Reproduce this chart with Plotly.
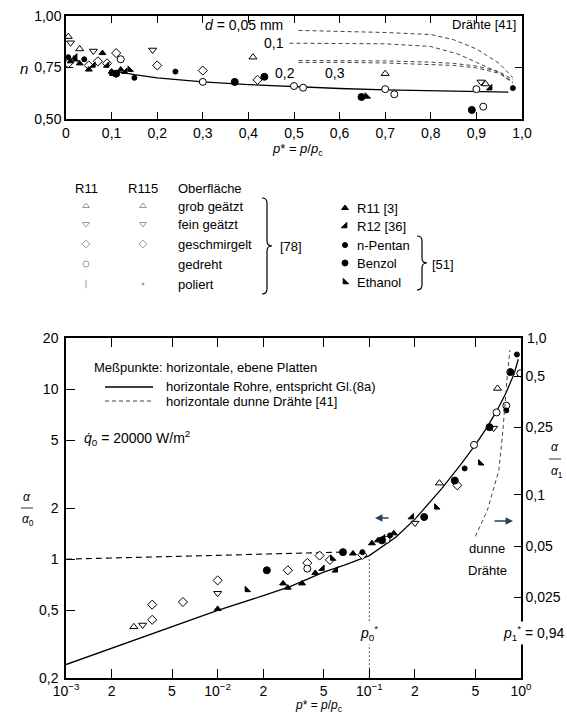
import plotly.graph_objects as go

W, H = 567, 715
FONT = "Liberation Sans"

# ---------------- upper chart: exponent n over p* ----------------
top_ticks = [0, 0.1, 0.2, 0.3, 0.4, 0.5, 0.6, 0.7, 0.8, 0.9, 1.0]
top_ticktext = ["0", "0,1", "0,2", "0,3", "0,4", "0,5", "0,6", "0,7", "0,8", "0,9", "1,0"]
n_ticks = [0.5, 0.75, 1.0]
n_ticktext = ["0,50", "0,75", "1,00"]

n_tube_p = [0.10, 0.15, 0.20, 0.25, 0.30, 0.40, 0.50, 0.60, 0.70, 0.80, 0.90, 0.97]
n_tube_n = [0.735, 0.715, 0.700, 0.690, 0.680, 0.667, 0.656, 0.648, 0.641, 0.636, 0.632, 0.630]

wire005_p = [0.51, 0.60, 0.70, 0.80, 0.85, 0.90, 0.95, 0.98]
wire005_n = [0.930, 0.926, 0.920, 0.910, 0.885, 0.840, 0.770, 0.700]
wire01_p = [0.49, 0.60, 0.70, 0.80, 0.86, 0.90, 0.95, 0.98]
wire01_n = [0.868, 0.868, 0.865, 0.852, 0.815, 0.775, 0.725, 0.680]
wire02_p = [0.51, 0.60, 0.70, 0.80, 0.85, 0.90, 0.95, 0.98]
wire02_n = [0.784, 0.784, 0.782, 0.776, 0.770, 0.757, 0.730, 0.690]
wire03_p = [0.51, 0.60, 0.70, 0.80, 0.85, 0.90, 0.95, 0.98]
wire03_n = [0.774, 0.775, 0.772, 0.766, 0.760, 0.748, 0.722, 0.675]

# scatter symbols in the upper chart
t_up_p = [0.005, 0.03, 0.41, 0.70, 0.92]
t_up_n = [0.90, 0.84, 0.80, 0.72, 0.67]
t_dn_p = [0.01, 0.06, 0.19, 0.91]
t_dn_n = [0.87, 0.83, 0.835, 0.68]
t_dia_p = [0.005, 0.05, 0.07, 0.09, 0.11, 0.20, 0.30, 0.42]
t_dia_n = [0.77, 0.76, 0.78, 0.77, 0.82, 0.76, 0.735, 0.69]
t_circ_p = [0.12, 0.30, 0.50, 0.52, 0.70, 0.72, 0.90, 0.915]
t_circ_n = [0.79, 0.68, 0.66, 0.652, 0.645, 0.62, 0.645, 0.56]
t_r11_p = [0.01, 0.03, 0.05, 0.08, 0.10, 0.12]
t_r11_n = [0.78, 0.77, 0.74, 0.82, 0.73, 0.74]
t_r12_p = [0.02, 0.06, 0.09, 0.13, 0.93]
t_r12_n = [0.80, 0.76, 0.76, 0.73, 0.65]
t_pent_p = [0.005, 0.04, 0.15, 0.24, 0.98]
t_pent_n = [0.80, 0.79, 0.70, 0.73, 0.65]
t_benz_p = [0.11, 0.37, 0.435, 0.648, 0.89]
t_benz_n = [0.72, 0.68, 0.705, 0.607, 0.544]
t_eth_p = [0.02, 0.10, 0.14, 0.66]
t_eth_n = [0.79, 0.72, 0.74, 0.61]

# ---------------- lower chart: alpha/alpha0 over p* ----------------
b_xticks = [0.001, 0.002, 0.005, 0.01, 0.02, 0.05, 0.1, 0.2, 0.5, 1.0]
b_xticktext = ["10<sup>−3</sup>", "2", "5", "10<sup>−2</sup>", "2", "5",
               "10<sup>−1</sup>", "2", "5", "10<sup>0</sup>"]
b_yticks = [0.2, 0.5, 1, 2, 5, 10, 20]
b_yticktext = ["0,2", "0,5", "1", "2", "5", "10", "20"]
r_yticks = [0.025, 0.05, 0.1, 0.25, 0.5]
r_yticktext = ["0,025", "0,05", "0,1", "0,25", "0,5"]

tube_p = [0.001, 0.002, 0.005, 0.01, 0.02, 0.03, 0.05, 0.07, 0.1, 0.15, 0.2,
          0.3, 0.4, 0.5, 0.6, 0.7, 0.8, 0.9, 0.96]
tube_v = [0.24, 0.30, 0.40, 0.50, 0.61, 0.69, 0.84, 0.93, 1.05, 1.35, 1.72,
          2.6, 3.6, 4.7, 6.0, 7.6, 9.6, 12.3, 15.0]

wire_h_p = [0.001, 0.01, 0.065]
wire_h_v = [1.0, 1.05, 1.10]
# thin wires, read against the right axis alpha/alpha1
wire_thin_p = [0.50, 0.60, 0.715, 0.76, 0.81, 0.845]
wire_thin_a1 = [0.057, 0.081, 0.14, 0.24, 0.49, 0.71]

p0_star = 0.1

b_up_p = [0.0028, 0.29, 0.70]
b_up_v = [0.40, 2.8, 10.1]
b_dn_p = [0.0032, 0.01, 0.20, 0.66]
b_dn_v = [0.41, 0.63, 1.63, 5.9]
b_dia_p = [0.0037, 0.0037, 0.0059, 0.01, 0.029, 0.039, 0.047, 0.055, 0.09, 0.38]
b_dia_v = [0.44, 0.54, 0.56, 0.75, 0.86, 0.95, 1.05, 0.99, 1.06, 2.72]
b_circ_p = [0.039, 0.13, 0.49, 0.69, 0.99, 0.80]
b_circ_v = [0.88, 1.30, 4.7, 7.3, 12.4, 8.0]
b_r11_p = [0.01, 0.027, 0.029, 0.036, 0.044, 0.078, 0.104, 0.114, 0.145]
b_r11_v = [0.51, 0.72, 0.68, 0.72, 0.83, 1.08, 1.24, 1.29, 1.42]
b_r12_p = [0.049, 0.06, 0.123, 0.19]
b_r12_v = [0.88, 0.86, 1.33, 1.77]
b_benz_p = [0.0211, 0.067, 0.121, 0.23, 0.366, 0.62, 0.85]
b_benz_v = [0.86, 1.10, 1.29, 1.77, 2.9, 5.98, 12.6]
b_pent_p = [0.09, 0.137, 0.425, 0.80, 0.94]
b_pent_v = [1.10, 1.38, 3.42, 7.5, 16.0]
b_eth_p = [0.0156, 0.057, 0.277, 0.54]
b_eth_v = [0.66, 1.01, 2.02, 3.67]

# ---------------- legend texts ----------------
leg_rows = ["grob geätzt", "fein geätzt", "geschmirgelt", "gedreht", "poliert"]
leg_right = ["R11 [3]", "R12 [36]", "n-Pentan", "Benzol", "Ethanol"]

fig = go.Figure()


def pts(xs, ys, sym, size, xa, ya, fill="black", lw=1.0, col="black"):
    fig.add_trace(go.Scatter(
        x=xs, y=ys, mode="markers", xaxis=xa, yaxis=ya, hoverinfo="skip",
        showlegend=False,
        marker=dict(symbol=sym, size=size, color=fill, line=dict(color=col, width=lw))))


def line(xs, ys, xa, ya, dash="solid", width=1.2, col="black"):
    fig.add_trace(go.Scatter(
        x=xs, y=ys, mode="lines", xaxis=xa, yaxis=ya, hoverinfo="skip",
        showlegend=False, line=dict(color=col, width=width, dash=dash)))


# upper chart
line(n_tube_p, n_tube_n, "x", "y", width=1.3)
for px_, py_ in [(wire005_p, wire005_n), (wire01_p, wire01_n),
                 (wire02_p, wire02_n), (wire03_p, wire03_n)]:
    line(px_, py_, "x", "y", dash="4px,3px", width=1.0, col="#444")
pts(t_up_p, t_up_n, "triangle-up", 7, "x", "y", fill="white")
pts(t_dn_p, t_dn_n, "triangle-down", 7, "x", "y", fill="white")
pts(t_dia_p, t_dia_n, "diamond", 7, "x", "y", fill="white")
pts(t_circ_p, t_circ_n, "circle", 7, "x", "y", fill="white")
pts(t_r11_p, t_r11_n, "triangle-up", 6, "x", "y")
pts(t_r12_p, t_r12_n, "triangle-se", 6, "x", "y")
pts(t_pent_p, t_pent_n, "circle", 5, "x", "y")
pts(t_benz_p, t_benz_n, "circle", 7, "x", "y")
pts(t_eth_p, t_eth_n, "triangle-sw", 6, "x", "y")

# lower chart
line(tube_p, tube_v, "x2", "y2", width=1.3)
line(wire_h_p, wire_h_v, "x2", "y2", dash="6px,4px", width=1.1)
line([p0_star, p0_star], [1.0, 0.2], "x2", "y2", dash="2px,2px", width=1.0, col="#555")
pts(b_up_p, b_up_v, "triangle-up", 7, "x2", "y2", fill="white")
pts(b_dn_p, b_dn_v, "triangle-down", 7, "x2", "y2", fill="white")
pts(b_dia_p, b_dia_v, "diamond", 7, "x2", "y2", fill="white")
pts(b_circ_p, b_circ_v, "circle", 7, "x2", "y2", fill="white")
pts(b_r11_p, b_r11_v, "triangle-up", 6, "x2", "y2")
pts(b_r12_p, b_r12_v, "triangle-se", 6, "x2", "y2")
pts(b_benz_p, b_benz_v, "circle", 7, "x2", "y2")
pts(b_pent_p, b_pent_v, "circle", 5, "x2", "y2")
pts(b_eth_p, b_eth_v, "triangle-sw", 6, "x2", "y2")
line(wire_thin_p, wire_thin_a1, "x2", "y3", dash="4px,3px", width=1.0, col="#444")

# canvas (pixel coordinates) for legend glyphs and sample lines
CV = ("x4", "y4")
row_y = [206, 224, 244, 264, 284]
faint = "#9a9a9a"
for sym, yy in zip(["triangle-up-open", "triangle-down-open", "diamond-open",
                    "circle-open", "line-ns-open"], row_y):
    pts([86], [yy], sym, 6, *CV, fill=faint, col=faint)
for sym, yy in zip(["triangle-up-open", "triangle-down-open", "diamond-open"], row_y[:3]):
    pts([143], [yy], sym, 6, *CV, fill=faint, col=faint)
pts([143], [row_y[4]], "circle", 2, *CV, fill=faint, col=faint)
right_y = [208, 226, 245, 263, 282]
pts([345], [right_y[0]], "triangle-up", 6, *CV)
pts([345], [right_y[1]], "triangle-se", 6, *CV)
pts([345], [right_y[2]], "circle", 5, *CV)
pts([345], [right_y[3]], "circle", 6, *CV)
pts([345], [right_y[4]], "triangle-sw", 6, *CV)
line([105, 153], [387, 387], *CV, width=1.3)
line([105, 153], [401, 401], *CV, dash="4px,3px", width=1.0, col="#444")
line([21, 33], [508, 508], *CV, width=0.8)
line([549, 561], [459, 459], *CV, width=0.8)

L, R = 66, 522
axis_common = dict(showline=True, linecolor="black", linewidth=1.5, ticks="inside",
                   tickcolor="black", showgrid=False, zeroline=False,
                   tickfont=dict(family=FONT, size=14, color="black"),
                   fixedrange=True, automargin=False)

fig.update_layout(
    width=W, height=H, margin=dict(l=0, r=0, t=0, b=0),
    paper_bgcolor="white", plot_bgcolor="rgba(0,0,0,0)", showlegend=False,
    font=dict(family=FONT, size=13, color="black"),
    xaxis=dict(domain=[L / W, R / W], range=[0, 1.0], tickvals=top_ticks,
               ticktext=top_ticktext, ticklen=7, mirror="ticks", anchor="y",
               **axis_common),
    yaxis=dict(domain=[1 - 119 / H, 1 - 16 / H], range=[0.5, 1.0], tickvals=n_ticks,
               ticktext=n_ticktext, ticklen=7, mirror="ticks", anchor="x",
               **axis_common),
    xaxis2=dict(domain=[L / W, 521 / W], type="log", range=[-3, 0], tickvals=b_xticks,
                ticktext=b_xticktext, ticklen=9, mirror="ticks", anchor="y2",
                ticklabelstandoff=-1, **axis_common),
    yaxis2=dict(domain=[1 - 678 / H, 1 - 338 / H], type="log",
                range=[-0.69897, 1.30103], tickvals=b_yticks, ticktext=b_yticktext,
                ticklen=9, mirror=False, anchor="x2", ticklabelstandoff=3,
                **axis_common),
    yaxis3=dict(overlaying="y2", anchor="x2", side="right", type="log",
                range=[-2.077, -0.0775], tickvals=r_yticks, ticktext=r_yticktext,
                ticklen=7, **axis_common),
    xaxis4=dict(domain=[0, 1], range=[0, W], visible=False, anchor="y4", fixedrange=True),
    yaxis4=dict(domain=[0, 1], range=[H, 0], visible=False, anchor="x4", fixedrange=True),
)

ann = []


def txt(x, y, s, size=13, xa="center", ya="middle", bg=None):
    d = dict(x=x, y=y, xref="x4", yref="y4", text=s, showarrow=False,
             xanchor=xa, yanchor=ya, font=dict(family=FONT, size=size, color="black"))
    if bg:
        d["bgcolor"] = bg
    ann.append(d)


# upper chart texts
txt(24, 68, "<i>n</i>", size=15)
txt(203, 25, "<i>d</i> = 0,05 mm", xa="left", size=14)
txt(262, 43, "0,1", xa="left", size=14)
txt(273, 73, "0,2", xa="left", size=14)
txt(323, 73, "0,3", xa="left", size=14)
txt(518, 24, "Drähte [41]", xa="right", size=13)
txt(297, 149, "<i>p</i>* = <i>p</i>/<i>p</i><sub>c</sub>", size=13)

# legend block
txt(86, 188, "R11")
txt(143, 188, "R115")
txt(176, 188, "Oberfläche", xa="left")
for yy, s in zip(row_y, leg_rows):
    txt(176, yy, s, xa="left")
txt(278, 246, "[78]", xa="left")
for yy, s in zip(right_y, leg_right):
    txt(355, yy, s, xa="left")
txt(430, 264, "[51]", xa="left")

# lower chart texts
txt(92, 367, "Meßpunkte: horizontale, ebene Platten", xa="left")
txt(164, 386, "horizontale Rohre, entspricht Gl.(8a)", xa="left")
txt(164, 401, "horizontale dunne Drähte [41]", xa="left")
txt(82, 438, "<i>q̇</i><sub>0</sub> = 20000 W/m<sup>2</sup>", xa="left", size=14)
txt(27, 497, "<i>α</i>", size=12)
txt(28, 520, "<i>α</i><sub>0</sub>", size=12)
txt(555, 447, "<i>α</i>", size=12)
txt(557, 472, "<i>α</i><sub>1</sub>", size=12)
txt(525, 338, "1,0", xa="left", size=14)
txt(487, 548, "dunne")
txt(487, 570, "Drähte")
txt(369, 633, "<i>p</i><sub>0</sub><sup>*</sup>", size=14, bg="white")
txt(566, 633, "<i>p</i><sub>1</sub><sup>*</sup> = 0,94", xa="right", size=14, bg="white")
txt(318, 706, "<i>p</i>* = <i>p</i>/<i>p</i><sub>c</sub>", size=12)

# arrows (left axis / right axis)
ann.append(dict(x=375, y=518, xref="x4", yref="y4", ax=390, ay=518, axref="x4", ayref="y4",
                showarrow=True, arrowhead=2, arrowsize=1, arrowwidth=1.5, text=""))
ann.append(dict(x=513, y=521, xref="x4", yref="y4", ax=493, ay=521, axref="x4", ayref="y4",
                showarrow=True, arrowhead=2, arrowsize=1, arrowwidth=1.5, text=""))
fig.update_layout(annotations=ann)


def brace(x, y0, y1, w=5):
    ym = (y0 + y1) / 2
    return (f"M {x},{y0} Q {x + w},{y0} {x + w},{y0 + w} L {x + w},{ym - w} "
            f"Q {x + w},{ym} {x + 2 * w},{ym} Q {x + w},{ym} {x + w},{ym + w} "
            f"L {x + w},{y1 - w} Q {x + w},{y1} {x},{y1}")


fig.update_layout(shapes=[
    dict(type="path", path=brace(262, 198, 294), xref="x4", yref="y4",
         line=dict(color="black", width=1.2)),
    dict(type="path", path=brace(417, 236, 290), xref="x4", yref="y4",
         line=dict(color="black", width=1.2)),
])

fig.write_html("out.html")
